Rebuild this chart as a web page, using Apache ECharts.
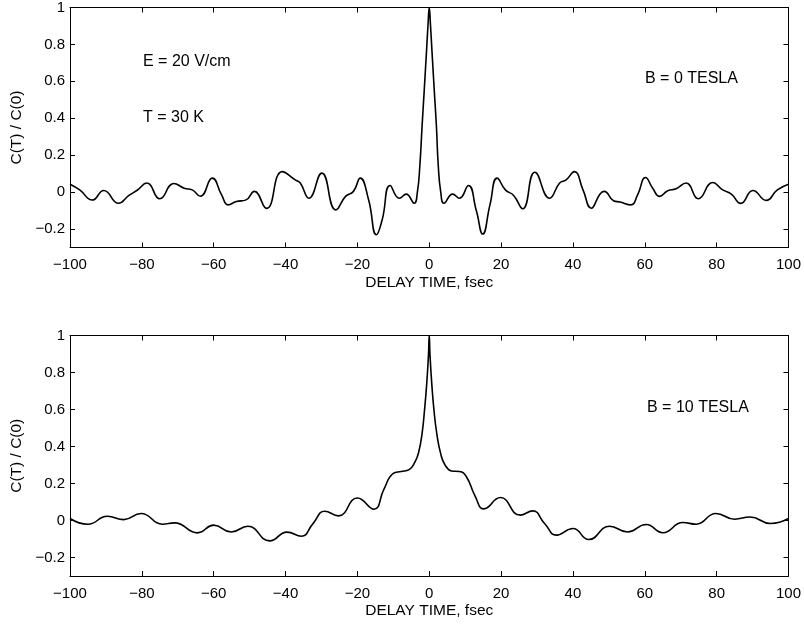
<!DOCTYPE html>
<html>
<head>
<meta charset="utf-8">
<script src="https://cdn.jsdelivr.net/npm/echarts@6/dist/echarts.min.js"></script>
<style>
  html, body { margin: 0; padding: 0; background: #fff; }
  #chart { width: 804px; height: 624px; }
</style>
</head>
<body>
<div id="chart"></div>
<script>
// Normalised correlation C(T)/C(0) versus delay time (fsec), E = 20 V/cm, T = 30 K

// B = 0 TESLA
const delayB0 = [
  -100, -97.3, -93.8, -90.6, -86.5, -83.6, -81.3, -78.6, -75, -71.1,
  -68.2, -66, -63.7, -60.4, -57.8, -56, -53.7, -51, -48.7, -45.3,
  -40.9, -37.3, -35.9, -33.5, -29.9, -26, -23.3, -21.1, -19.2, -16.9,
  -14.7, -13.1, -10.9, -8.3, -6.4, -4.2, -3.3, -2.6, -2.0, -1.4,
  -0.8, -0.3, 0,
  0.3, 0.8, 1.4, 2.0, 2.5, 3.2, 4.1, 6.5, 8.4, 10.9,
  13.1, 14.9, 16.9, 18.9, 21.2, 23.5, 26, 29.4, 33.5, 36.3,
  38.1, 40.4, 42.8, 45.1, 47.5, 48.7, 51.3, 53.2, 56.1, 58,
  60.2, 62.2, 64.1, 66.4, 68.7, 71.5, 74.9, 78.9, 81.7, 84.1,
  86.7, 90.1, 93.8, 96.9, 100
];
const corrB0 = [
  0.043, 0.012, -0.043, 0.009, -0.060, -0.018, 0.010, 0.049, -0.036, 0.047,
  0.021, 0.012, -0.022, 0.076, -0.015, -0.069, -0.051, -0.042, 0.004, -0.088,
  0.111, 0.066, 0.049, -0.033, 0.103, -0.096, -0.023, 0.004, 0.076, -0.040,
  -0.231, -0.150, 0.036, -0.033, -0.011, -0.060, 0.000, 0.148, 0.355, 0.550,
  0.750, 0.920, 1.000,
  0.920, 0.750, 0.550, 0.355, 0.148, 0.000, -0.060, -0.011, -0.033, 0.036,
  -0.100, -0.227, -0.069, 0.076, 0.012, -0.018, -0.090, 0.108, -0.033, 0.049,
  0.066, 0.111, 0.012, -0.087, -0.011, 0.004, -0.047, -0.054, -0.069, -0.015,
  0.079, 0.021, -0.023, 0.007, 0.018, 0.049, -0.036, 0.052, 0.012, -0.011,
  -0.061, 0.009, -0.045, 0.012, 0.043
];

// B = 10 TESLA
const delayB10 = [
  -100, -95, -89.6, -85, -80.2, -74.3, -70.9, -64.5, -60, -55.1,
  -50.5, -44.4, -39.6, -35.6, -32.4, -29.1, -25.3, -20, -15.4, -12.6,
  -10, -7.8, -5.6, -4, -3, -2, -1.3, -0.7, -0.2, 0,
  0.2, 0.7, 1.3, 2.1, 3.2, 4.4, 6.2, 8.4, 10.3, 12.7,
  15.2, 19.8, 25.3, 28.8, 32.1, 35.4, 40, 44.4, 50.2, 55.2,
  60.4, 65, 70.6, 74.3, 79.8, 85, 89.3, 95, 100
];
const corrB10 = [
  0.011, -0.020, 0.023, 0.005, 0.038, -0.020, -0.013, -0.067, -0.025, -0.062,
  -0.031, -0.110, -0.063, -0.085, -0.018, 0.050, 0.025, 0.122, 0.061, 0.170,
  0.255, 0.265, 0.275, 0.315, 0.365, 0.470, 0.600, 0.740, 0.900, 1.000,
  0.900, 0.740, 0.600, 0.470, 0.360, 0.300, 0.268, 0.265, 0.238, 0.135,
  0.063, 0.124, 0.029, 0.052, -0.016, -0.079, -0.043, -0.103, -0.031, -0.062,
  -0.022, -0.066, -0.011, -0.020, 0.038, 0.007, 0.019, -0.016, 0.011
];

const yTickValues = [-0.2, 0, 0.2, 0.4, 0.6, 0.8, 1];
const xAxisTitle = 'DELAY TIME, fsec';
const yAxisTitle = 'C(T) / C(0)';
const panelNotes = [
  { text: 'E = 20 V/cm', left: 143, top: 54 },
  { text: 'T = 30 K', left: 143, top: 110 },
  { text: 'B = 0 TESLA', left: 645, top: 71 },
  { text: 'B = 10 TESLA', left: 647, top: 400 }
];

const FONT = '"Liberation Sans", Arial, Helvetica, sans-serif';
const INK = '#000';

function pairs(xs, ys) {
  return xs.map((x, i) => [x, ys[i]]);
}
function minusSign(v) {
  return String(v).replace('-', '\u2212');
}

function bottomX(grid) {
  return {
    type: 'value', gridIndex: grid, position: 'bottom',
    min: -100, max: 100, interval: 20,
    axisLine: { show: true, onZero: false, lineStyle: { color: INK, width: 1 } },
    axisTick: { show: true, inside: true, length: 5, lineStyle: { color: INK, width: 1 } },
    axisLabel: { color: INK, fontSize: 15, fontFamily: FONT, margin: 10, formatter: minusSign },
    splitLine: { show: false },
    name: xAxisTitle, nameLocation: 'middle', nameGap: 27,
    nameTextStyle: { color: INK, fontSize: 15.5, fontFamily: FONT }
  };
}
function topX(grid) {
  return {
    type: 'value', gridIndex: grid, position: 'top',
    min: -100, max: 100, interval: 20,
    axisLine: { show: true, onZero: false, lineStyle: { color: INK, width: 1 } },
    axisTick: { show: true, inside: true, length: 5, lineStyle: { color: INK, width: 1 } },
    axisLabel: { show: false },
    splitLine: { show: false }
  };
}
function leftY(grid) {
  return {
    type: 'value', gridIndex: grid, position: 'left',
    min: -0.3, max: 1,
    axisLine: { show: true, onZero: false, lineStyle: { color: INK, width: 1 } },
    axisTick: { show: true, inside: true, length: 5, customValues: yTickValues, lineStyle: { color: INK, width: 1 } },
    axisLabel: { color: INK, fontSize: 15, fontFamily: FONT, margin: 5, customValues: yTickValues, formatter: minusSign },
    splitLine: { show: false },
    name: yAxisTitle, nameLocation: 'middle', nameGap: 40, nameRotate: 90,
    nameTextStyle: { color: INK, fontSize: 15.5, fontFamily: FONT }
  };
}
function rightY(grid) {
  return {
    type: 'value', gridIndex: grid, position: 'right',
    min: -0.3, max: 1,
    axisLine: { show: true, onZero: false, lineStyle: { color: INK, width: 1 } },
    axisTick: { show: true, inside: true, length: 5, customValues: yTickValues, lineStyle: { color: INK, width: 1 } },
    axisLabel: { show: false },
    splitLine: { show: false }
  };
}
function curve(xIdx, yIdx, data) {
  return {
    type: 'line', xAxisIndex: xIdx, yAxisIndex: yIdx, data: data,
    symbol: 'none', showSymbol: false, smooth: 0.5,
    lineStyle: { color: INK, width: 1.6 },
    animation: false, silent: true
  };
}

const chart = echarts.init(document.getElementById('chart'), null, { renderer: 'canvas' });
chart.setOption({
  backgroundColor: '#fff',
  animation: false,
  grid: [
    { left: 70, right: 15, top: 7.5, height: 240 },
    { left: 70, right: 15, top: 335.5, height: 240.5 }
  ],
  xAxis: [bottomX(0), topX(0), bottomX(1), topX(1)],
  yAxis: [leftY(0), rightY(0), leftY(1), rightY(1)],
  series: [
    curve(0, 0, pairs(delayB0, corrB0)),
    curve(2, 2, pairs(delayB10, corrB10))
  ],
  graphic: panelNotes.map(n => ({
    type: 'text', left: n.left, top: n.top, silent: true,
    style: { text: n.text, fill: INK, font: '16px ' + FONT }
  }))
});
</script>
</body>
</html>
